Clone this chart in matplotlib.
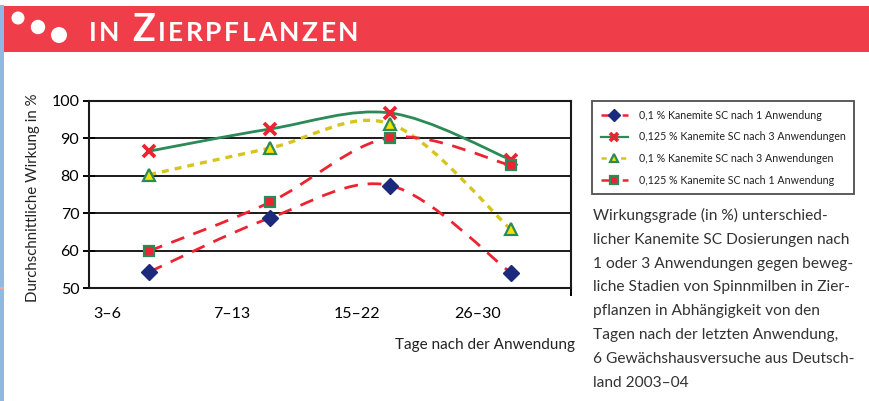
import matplotlib
matplotlib.use("Agg")
import matplotlib.pyplot as plt
from matplotlib.path import Path
from matplotlib.patches import PathPatch, Rectangle, Ellipse
from matplotlib.lines import Line2D
from matplotlib.transforms import ScaledTranslation

plt.rcParams['font.family'] = ['Lato', 'DejaVu Sans']

# ---- data ----
categories = ["3–6", "7–13", "15–22", "26–30"]
s1_label = "0,1 % Kanemite SC nach 1 Anwendung"
s1_values = [54.3, 68.7, 77.4, 54.1]
s2_label = "0,125 % Kanemite SC nach 3 Anwendungen"
s2_values = [86.6, 92.5, 96.8, 84.3]
s3_label = "0,1 % Kanemite SC nach 3 Anwendungen"
s3_values = [80.3, 87.4, 93.9, 65.7]
s4_label = "0,125 % Kanemite SC nach 1 Anwendung"
s4_values = [59.9, 72.9, 90.2, 82.8]
y_ticks = [50, 60, 70, 80, 90, 100]
title = "in Zierpflanzen"
x_label = "Tage nach der Anwendung"
y_label = "Durchschnittliche Wirkung in %"
caption = ("Wirkungsgrade (in %) unterschied-\n"
           "licher Kanemite SC Dosierungen nach\n"
           "1 oder 3 Anwendungen gegen beweg-\n"
           "liche Stadien von Spinnmilben in Zier-\n"
           "pflanzen in Abhängigkeit von den\n"
           "Tagen nach der letzten Anwendung,\n"
           "6 Gewächshausversuche aus Deutsch-\n"
           "land 2003–04")

W, H = 869, 401
fig = plt.figure(figsize=(W / 100, H / 100), dpi=100)
fig.patch.set_facecolor("white")

RED = "#ef3d4a"
LINE_RED = "#ec2431"
GREEN = "#2b8a57"
YELLOW = "#d6c41f"
NAVY = "#1b2a7c"

# ---- decorations: header band, left stripe ----
fig.add_artist(Rectangle((3 / W, 1 - 52 / H), 1 - 3 / W, 46 / H,
                         transform=fig.transFigure, color=RED, lw=0))
fig.add_artist(Rectangle((0, 0), 3.5 / W, 1 - 5 / H,
                         transform=fig.transFigure, color="#8fb9e3", lw=0))
fig.add_artist(Rectangle((0, 1 - 289 / H), 4 / W, 2 / H,
                         transform=fig.transFigure, color="#f4a79a", lw=0))
for cx, cy, r in [(18, 18, 6.5), (38, 27, 7.2), (59, 35, 8)]:
    fig.add_artist(Ellipse((cx / W, 1 - cy / H), 2 * r / W, 2 * r / H,
                           transform=fig.transFigure, color="white", lw=0))

# header text in small caps with letter spacing
renderer = fig.canvas.get_renderer()
x_px = 89
base_y = 1 - 41 / H
parts = [("IN", 19), (" ", 19), ("Z", 27), ("IERPFLANZEN", 19)]
for txt, sz in parts:
    if txt == " ":
        x_px += 10
        continue
    for ch in txt:
        t = fig.text(x_px / W, base_y, ch, color="white", fontsize=sz,
                     fontweight="bold", va="baseline", ha="left")
        bb = t.get_window_extent(renderer)
        x_px += bb.width + 2.6

# ---- axes ----
ax = fig.add_axes([89 / W, 1 - 288 / H, 482 / W, 187 / H])
ax.set_xlim(-0.5, 3.5)
ax.set_ylim(50, 100)
xs = list(range(len(categories)))


def smooth_path(xv, yv):
    pts = list(zip(xv, yv))
    verts = [pts[0]]
    codes = [Path.MOVETO]
    n = len(pts)
    for i in range(n - 1):
        p0 = pts[max(i - 1, 0)]
        p1 = pts[i]
        p2 = pts[i + 1]
        p3 = pts[min(i + 2, n - 1)]
        c1 = (p1[0] + (p2[0] - p0[0]) / 6, p1[1] + (p2[1] - p0[1]) / 6)
        c2 = (p2[0] - (p3[0] - p1[0]) / 6, p2[1] - (p3[1] - p1[1]) / 6)
        verts += [c1, c2, p2]
        codes += [Path.CURVE4] * 3
    return Path(verts, codes)


series = [
    (s1_values, LINE_RED, (0, (5, 3.5)), 2.0,
     dict(marker="D", ms=8, mfc=NAVY, mec=NAVY, mew=1)),
    (s2_values, GREEN, "-", 2.0,
     dict(marker="x", ms=8.5, mfc=LINE_RED, mec=LINE_RED, mew=2.7)),
    (s3_values, YELLOW, (0, (2.1, 1.8)), 2.4,
     dict(marker="^", ms=8, mfc="#f5e000", mec=GREEN, mew=1.6)),
    (s4_values, LINE_RED, (0, (5, 3.5)), 2.0,
     dict(marker="s", ms=7, mfc=LINE_RED, mec=GREEN, mew=1.6)),
]
labels = [s1_label, s2_label, s3_label, s4_label]

for vals, col, ls, lw, mk in series:
    patch = PathPatch(smooth_path(xs, vals), fill=False, edgecolor=col,
                      lw=lw, linestyle=ls, capstyle="butt", zorder=3)
    ax.add_patch(patch)
for vals, col, ls, lw, mk in series:
    ax.plot(xs, vals, ls="none", zorder=4, **mk)

ax.set_yticks(y_ticks)
ax.set_yticklabels([str(v) for v in y_ticks], fontsize=11.5)
ax.yaxis.grid(True, color="#1a1a1a", lw=1.4)
ax.set_axisbelow(True)
ax.tick_params(axis="y", direction="inout", length=8, width=1.4, pad=3)

ax.set_xticks([-0.5 + i for i in range(len(categories))])
ax.set_xticklabels(categories, fontsize=11.5, ha="left")
ax.tick_params(axis="x", which="major", length=0, pad=14)
for lab in ax.get_xticklabels():
    lab.set_transform(lab.get_transform() + ScaledTranslation(4 / 100, 0, fig.dpi_scale_trans))
ax.set_xticks([0.5, 1.5, 2.5, 3.5], minor=True)
ax.tick_params(axis="x", which="minor", direction="out", length=6, width=1.4)

for sp in ax.spines.values():
    sp.set_color("#1a1a1a")
    sp.set_linewidth(1.5)

fig.text(575 / W, 1 - 345 / H, x_label, fontsize=11, ha="right", va="center",
         color="#222222")
fig.text(33 / W, 1 - 198 / H, y_label, fontsize=10.8, rotation=90,
         ha="center", va="center", color="#222222")

# ---- legend ----
handles = []
for vals, col, ls, lw, mk in series:
    h = Line2D([], [], color=col, lw=1.6 if ls == "-" else 1.8,
               linestyle=ls, **{k: (v * 0.75 if k == "ms" else v) for k, v in mk.items()})
    handles.append(h)
leg = fig.legend(handles, labels, loc="upper left",
                 bbox_to_anchor=(592 / W, 1 - 101 / H), fontsize=7.7,
                 frameon=True, fancybox=False, handlelength=2.6,
                 handletextpad=1.0, borderpad=0.8, labelspacing=1.0,
                 numpoints=1, borderaxespad=0)
leg.get_frame().set_edgecolor("#222222")
leg.get_frame().set_linewidth(1.3)
for t in leg.get_texts():
    t.set_color("#222222")

fig.text(593 / W, 1 - 208 / H, caption, fontsize=11.2, ha="left", va="top",
         color="#333333", linespacing=1.89)

fig.savefig("out.png", dpi=100)
